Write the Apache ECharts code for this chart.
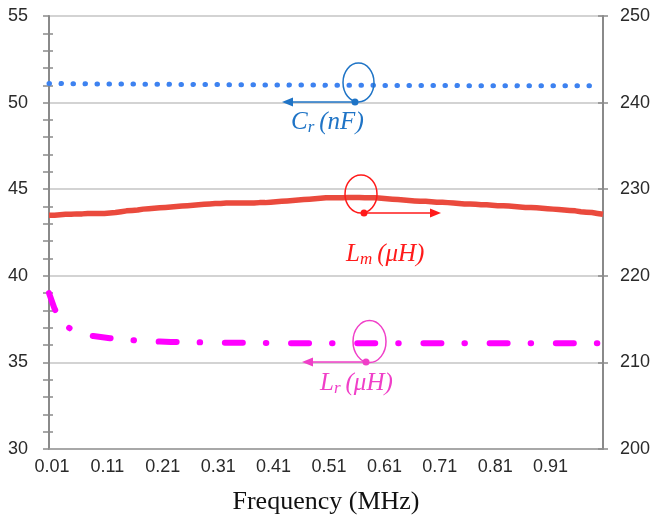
<!DOCTYPE html>
<html>
<head>
<meta charset="utf-8">
<script src="https://cdn.jsdelivr.net/npm/echarts@6/dist/echarts.min.js"></script>
<style>
html,body{margin:0;padding:0;background:#fff;}
#chart{width:654px;height:519px;}
</style>
</head>
<body>
<div id="chart"></div>
<script>
const categories = ['0.01','0.02','0.03','0.04','0.05','0.06','0.07','0.08','0.09','0.10',
'0.11','0.12','0.13','0.14','0.15','0.16','0.17','0.18','0.19','0.20',
'0.21','0.22','0.23','0.24','0.25','0.26','0.27','0.28','0.29','0.30',
'0.31','0.32','0.33','0.34','0.35','0.36','0.37','0.38','0.39','0.40',
'0.41','0.42','0.43','0.44','0.45','0.46','0.47','0.48','0.49','0.50',
'0.51','0.52','0.53','0.54','0.55','0.56','0.57','0.58','0.59','0.60',
'0.61','0.62','0.63','0.64','0.65','0.66','0.67','0.68','0.69','0.70',
'0.71','0.72','0.73','0.74','0.75','0.76','0.77','0.78','0.79','0.80',
'0.81','0.82','0.83','0.84','0.85','0.86','0.87','0.88','0.89','0.90',
'0.91','0.92','0.93','0.94','0.95','0.96','0.97','0.98','0.99','1.00','1.01'];

// Cr (nF) - left axis (0.01 .. 1.00)
const crValues = [51.10,51.10,51.10,51.09,51.09,51.09,51.09,51.08,51.08,51.08,
51.08,51.08,51.07,51.07,51.07,51.07,51.07,51.06,51.06,51.06,
51.06,51.06,51.05,51.05,51.05,51.05,51.05,51.04,51.04,51.04,
51.04,51.04,51.03,51.03,51.03,51.03,51.03,51.03,51.02,51.02,
51.02,51.02,51.02,51.02,51.01,51.01,51.01,51.01,51.01,51.01,
51.00,51.00,51.00,51.00,51.00,51.00,51.00,51.00,51.00,51.00,
50.99,50.99,50.99,50.99,50.99,50.99,50.99,50.99,50.99,50.99,
50.99,50.99,50.99,50.99,50.98,50.98,50.98,50.98,50.98,50.98,
50.98,50.98,50.98,50.98,50.98,50.97,50.97,50.97,50.97,50.97,
50.97,50.97,50.97,50.97,50.97,50.97,50.97,50.97,50.97,50.97];

// Lm (uH) - right axis
const lmValues = [227.0,227.0,227.05,227.1,227.1,227.15,227.15,227.2,227.2,227.2,
227.2,227.25,227.3,227.4,227.5,227.55,227.6,227.7,227.75,227.8,
227.85,227.9,227.95,228.0,228.05,228.1,228.15,228.2,228.25,228.3,
228.35,228.35,228.4,228.4,228.4,228.4,228.4,228.4,228.45,228.45,
228.5,228.55,228.6,228.65,228.7,228.75,228.8,228.85,228.9,228.95,
229.0,229.0,229.0,229.0,229.05,229.05,229.05,229.0,229.0,229.0,
228.95,228.9,228.85,228.8,228.75,228.7,228.65,228.6,228.6,228.55,
228.5,228.5,228.45,228.4,228.35,228.3,228.3,228.25,228.2,228.2,
228.15,228.1,228.1,228.05,228.0,227.95,227.9,227.9,227.85,227.8,
227.75,227.7,227.65,227.6,227.55,227.5,227.4,227.35,227.3,227.2,227.1];

// Lr (uH) - left axis
const lrValues = [39.0,38.1,37.5,37.15,36.9,36.75,36.65,36.58,36.52,36.48,
36.44,36.4,36.37,36.33,36.3,36.28,36.26,36.24,36.22,36.21,
36.2,36.19,36.18,36.18,36.17,36.17,36.16,36.16,36.15,36.15,
36.14,36.14,36.14,36.13,36.13,36.13,36.13,36.12,36.12,36.12,
36.12,36.11,36.11,36.11,36.11,36.11,36.1,36.1,36.1,36.1,
36.1,36.1,36.1,36.1,36.1,36.1,36.1,36.1,36.1,36.1,
36.1,36.1,36.1,36.1,36.1,36.1,36.1,36.1,36.1,36.1,
36.1,36.1,36.1,36.1,36.1,36.1,36.1,36.1,36.1,36.1,
36.1,36.1,36.1,36.1,36.1,36.1,36.1,36.1,36.1,36.1,
36.1,36.1,36.1,36.1,36.1,36.1,36.1,36.1,36.1,36.1,36.1];

const leftTicks = {min: 30, max: 55, interval: 5};
const rightTicks = {min: 200, max: 250, interval: 10};

const chart = echarts.init(document.getElementById('chart'), null, {renderer: 'canvas'});

const labelFont = {fontFamily: 'Liberation Sans, Arial, sans-serif', fontSize: 18, color: '#2a2a2a'};
const mathFont = 'Liberation Serif, Times New Roman, serif';

function mathRich(color) {
  return {
    m: {fontFamily: mathFont, fontStyle: 'italic', fontSize: 25, fill: color, lineHeight: 28, verticalAlign: 'middle'},
    s: {fontFamily: mathFont, fontStyle: 'italic', fontSize: 17, fill: color, lineHeight: 28, verticalAlign: 'bottom', padding: [0, 5, 0, 0]}
  };
}

function ellipseAnno(cx, cy, rx, ry, color) {
  return {type: 'ellipse', shape: {cx: cx, cy: cy, rx: rx, ry: ry}, style: {fill: 'none', stroke: color, lineWidth: 1.5}, z: 100};
}
function dotAnno(x, y, color) {
  return {type: 'circle', shape: {cx: x, cy: y, r: 3.5}, style: {fill: color}, z: 100};
}
function arrowAnno(x1, y, x2, color) {
  const dir = x2 > x1 ? 1 : -1;
  return [
    {type: 'line', shape: {x1: x1, y1: y, x2: x2 - dir * 8, y2: y}, style: {stroke: color, lineWidth: 1.3}, z: 100},
    {type: 'polygon', shape: {points: [[x2, y], [x2 - dir * 11, y - 4.5], [x2 - dir * 11, y + 4.5]]}, style: {fill: color}, z: 100}
  ];
}

const crColor = '#1f74c6';
const lmColor = '#ff1a1a';
const lrColor = '#f03fc8';

const graphics = [].concat(
  [ellipseAnno(358.5, 82.5, 15.5, 19.5, crColor), dotAnno(355, 102, crColor)],
  arrowAnno(355, 102, 282, crColor),
  [{type: 'text', left: 291, top: 110, style: {text: '{m|C}{s|r}{m|(nF)}', fill: crColor, rich: mathRich(crColor)}, z: 100}],
  [ellipseAnno(361, 194, 16, 19, lmColor), dotAnno(364, 213, lmColor)],
  arrowAnno(364, 213, 441, lmColor),
  [{type: 'text', left: 346, top: 242, style: {text: '{m|L}{s|m}{m|(μH)}', fill: lmColor, rich: mathRich(lmColor)}, z: 100}],
  [ellipseAnno(369.5, 341.5, 16.5, 21, lrColor), dotAnno(366, 362, lrColor)],
  arrowAnno(366, 362, 302, lrColor),
  [{type: 'text', left: 320, top: 371, style: {text: '{m|L}{s|r}{m|(μH)}', fill: lrColor, rich: mathRich(lrColor)}, z: 100}]
);

const option = {
  animation: false,
  backgroundColor: '#ffffff',
  grid: {left: 49, right: 51, top: 16, bottom: 70, containLabel: false, outerBoundsMode: 'none'},
  xAxis: {
    type: 'category',
    data: categories,
    boundaryGap: false,
    name: 'Frequency (MHz)',
    nameLocation: 'middle',
    nameGap: 40,
    nameMoveOverlap: false,
    nameTextStyle: {fontFamily: 'Liberation Serif, Times New Roman, serif', fontSize: 26, color: '#111'},
    axisLine: {show: true, lineStyle: {color: '#9a9a9a', width: 1.5}},
    axisTick: {show: false},
    axisLabel: Object.assign({
      interval: function (i) { return i % 10 === 0 && i < 100; },
      margin: 9,
      padding: [0, 0, 0, 6]
    }, labelFont),
    splitLine: {show: false}
  },
  yAxis: [
    {
      type: 'value', position: 'left',
      min: leftTicks.min, max: leftTicks.max, interval: leftTicks.interval,
      axisLine: {show: true, lineStyle: {color: '#8a8a8a', width: 2}},
      axisTick: {show: true, length: 6, lineStyle: {color: '#8a8a8a', width: 1.5}},
      minorTick: {show: true, splitNumber: 5, length: 6, lineStyle: {color: '#8a8a8a', width: 1.5}},
      axisLabel: Object.assign({margin: 21}, labelFont),
      splitLine: {show: true, lineStyle: {color: '#c4c4c4', width: 1.5}}
    },
    {
      type: 'value', position: 'right',
      min: rightTicks.min, max: rightTicks.max, interval: rightTicks.interval,
      axisLine: {show: true, lineStyle: {color: '#8a8a8a', width: 2}},
      axisTick: {show: true, length: 5, lineStyle: {color: '#8a8a8a', width: 1.5}},
      axisLabel: Object.assign({margin: 17}, labelFont),
      splitLine: {show: false}
    },
    {
      type: 'value', position: 'left',
      min: leftTicks.min, max: leftTicks.max, interval: leftTicks.interval,
      axisLine: {show: false},
      axisTick: {show: true, inside: true, length: 0.01, lineStyle: {color: 'rgba(0,0,0,0)'}},
      minorTick: {show: true, splitNumber: 5, length: 4, lineStyle: {color: '#8a8a8a', width: 1.5}},
      axisLabel: {show: false},
      splitLine: {show: false}
    },
    {
      type: 'value', position: 'right',
      min: rightTicks.min, max: rightTicks.max, interval: rightTicks.interval,
      axisLine: {show: false},
      axisTick: {show: true, inside: true, length: 5, lineStyle: {color: '#8a8a8a', width: 1.5}},
      axisLabel: {show: false},
      splitLine: {show: false}
    }
  ],
  series: [
    {
      name: 'Cr (nF)', type: 'line', yAxisIndex: 0, data: crValues,
      symbol: 'none', smooth: false,
      lineStyle: {color: '#3d82f0', width: 5, type: [0.5, 11.5], cap: 'round'},
      z: 3
    },
    {
      name: 'Lm (uH)', type: 'line', yAxisIndex: 1, data: lmValues,
      symbol: 'none', smooth: false,
      lineStyle: {color: '#ea4a3d', width: 5.5, cap: 'butt'},
      z: 3
    },
    {
      name: 'Lr (uH)', type: 'line', yAxisIndex: 0, data: lrValues,
      symbol: 'none', smooth: false,
      lineStyle: {color: '#ff00ff', width: 6, type: [18, 23, 0.5, 24.7], cap: 'round'},
      z: 3
    }
  ],
  graphic: graphics
};

chart.setOption(option);
</script>
</body>
</html>
